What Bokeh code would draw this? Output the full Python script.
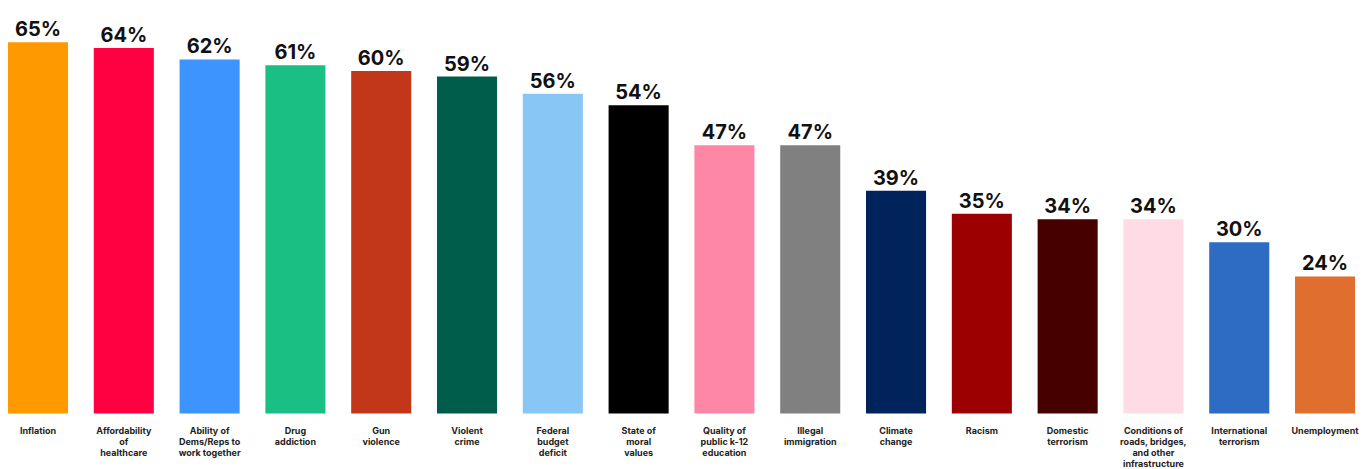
from bokeh.plotting import figure
from bokeh.models import ColumnDataSource, Range1d
from bokeh.core.properties import value
from bokeh.embed import file_html
from bokeh.resources import INLINE

categories = ["Inflation", "Affordability\nof\nhealthcare", "Ability of\nDems/Reps to\nwork together",
              "Drug\naddiction", "Gun\nviolence", "Violent\ncrime", "Federal\nbudget\ndeficit",
              "State of\nmoral\nvalues", "Quality of\npublic k-12\neducation", "Illegal\nimmigration",
              "Climate\nchange", "Racism", "Domestic\nterrorism",
              "Conditions of\nroads, bridges,\nand other\ninfrastructure", "International\nterrorism",
              "Unemployment"]
values = [65, 64, 62, 61, 60, 59, 56, 54, 47, 47, 39, 35, 34, 34, 30, 24]
colors = ["#FF9900", "#FF0040", "#3D94FF", "#1ABF84", "#C2361A", "#005C4B", "#87C6F5", "#000000",
          "#FF87A6", "#808080", "#00235C", "#9C0000", "#470000", "#FFDBE5", "#2E6BC2", "#E06E2E"]
value_labels = [f"{v}%" for v in values]

xs = list(range(len(values)))
src = ColumnDataSource(dict(x=xs, top=values, color=colors, lab=value_labels, cat=categories,
                            ly=[-2.0] * len(values)))

p = figure(width=1366, height=469, output_backend="svg", toolbar_location=None,
           x_range=Range1d(-0.437, 15.483), y_range=Range1d(-9.81, 72.33),
           min_border=0, min_border_left=0, min_border_right=0, min_border_top=0, min_border_bottom=0)
p.axis.visible = False
p.grid.visible = False
p.outline_line_color = None

p.vbar(x="x", top="top", bottom=0, width=0.70, color="color", line_color=None, source=src)
p.text(x="x", y="top", text="lab", source=src, text_align="center", text_baseline="alphabetic",
       y_offset=-13, text_font=value("Inter"), text_font_style="bold", text_font_size="20px",
       text_color="#111111")
p.text(x="x", y="ly", text="cat", source=src, text_align="center", text_baseline="top",
       text_font=value("Inter"), text_font_style="bold", text_font_size="9px",
       text_line_height=1.0, text_color="#222222")

open("out.html", "w").write(file_html(p, INLINE))
